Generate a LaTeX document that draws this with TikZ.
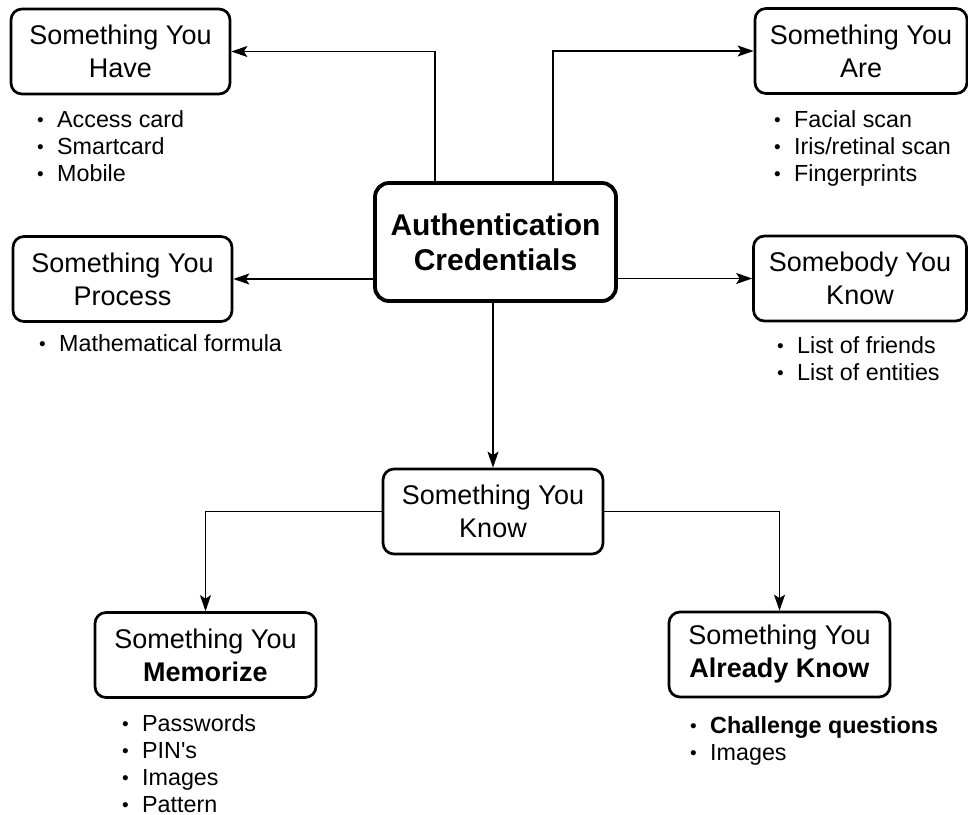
\documentclass[tikz,border=0pt]{standalone}
\usepackage{fontspec}
\setmainfont{Liberation Sans}
\usetikzlibrary{arrows.meta}

% one bullet line of a list
\newcommand{\listentry}[1]{\makebox[20pt][l]{\raisebox{1pt}{\fontsize{19}{19}\selectfont\textbullet}}#1}

\begin{document}
\begin{tikzpicture}[x=1pt,y=-1pt,
  box/.style={draw, line width=2.7pt, rounded corners=11pt, align=center,
    inner sep=0pt, font=\fontsize{27}{33}\selectfont,
    minimum width=219pt, minimum height=85pt},
  hub/.style={box, line width=3.8pt, rounded corners=14pt,
    font=\fontsize{30}{35}\selectfont\bfseries,
    minimum width=241pt, minimum height=118pt},
  link/.style={line width=1.4pt, -{Stealth[length=16pt,width=11pt,inset=3.5pt]}},
  items/.style={align=left, anchor=north west, inner sep=0pt,
    font=\fontsize{23.3}{27}\selectfont},
]
\useasboundingbox (0,0) rectangle (968,814);

% central hub
\node[hub] (auth) at (495.5,242) {Authentication\\Credentials};

% first ring of factors
\node[box] (have) at (120.5,51.5) {Something You\\Have};
\node[box, minimum width=212pt] (are) at (861,51) {Something You\\Are};
\node[box] (proc) at (122.5,279) {Something You\\Process};
\node[box, minimum width=213pt] (body) at (860,278.5) {Somebody You\\Know};
\node[box, minimum width=220pt] (know) at (493,511.5) {Something You\\Know};

% knowledge split
\node[box, minimum width=221pt] (mem) at (205.5,655) {Something You\\\textbf{Memorize}};
\node[box, minimum width=221pt] (alr) at (779.5,654.5) {Something You\\\textbf{Already Know}};

% example lists
\node[items] (havelist) at (37,110) {\listentry{Access card}\\\listentry{Smartcard}\\\listentry{Mobile}};
\node[items] (arelist) at (774,110) {\listentry{Facial scan}\\\listentry{Iris/retinal scan}\\\listentry{Fingerprints}};
\node[items] (proclist) at (39,334) {\listentry{Mathematical formula}};
\node[items] (bodylist) at (777,336) {\listentry{List of friends}\\\listentry{List of entities}};
\node[items] (memlist) at (122,714.5) {\listentry{Passwords}\\\listentry{PIN\textquotesingle s}\\\listentry{Images}\\\listentry{Pattern}};
\node[items] (alrlist) at (690,716) {\listentry{\textbf{Challenge questions}}\\\listentry{Images}};

% connectors
\coordinate (upL) at (435,0);
\coordinate (upR) at (553,0);
\draw[link] (auth.north -| upL) |- (have.east);
\draw[link] (auth.north -| upR) |- (are.west);
\draw[link] (auth.west |- proc.east) -- (proc.east);
\draw[link] (auth.east |- body.west) -- (body.west);
\draw[link] (auth.south -| know.north) -- (know.north);
\draw[link] (know.west) -| (mem.north);
\draw[link] (know.east) -| (alr.north);
\end{tikzpicture}
\end{document}
